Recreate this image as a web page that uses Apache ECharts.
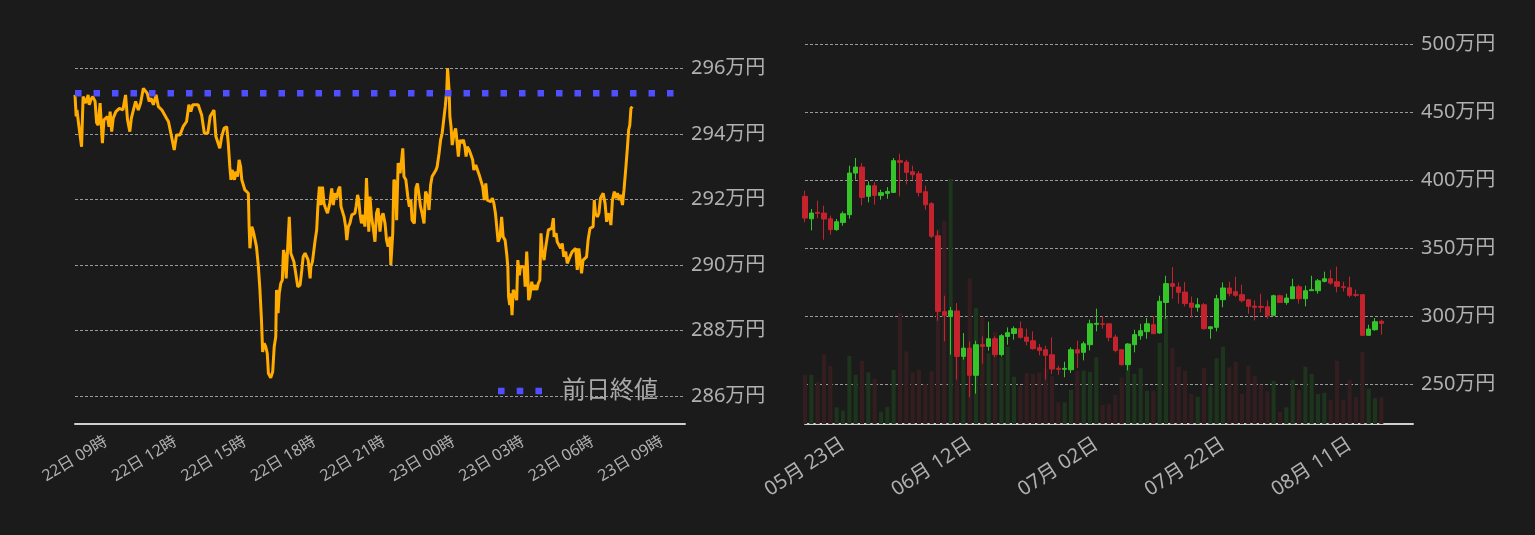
<!DOCTYPE html>
<html><head><meta charset="utf-8">
<script src="https://cdn.jsdelivr.net/npm/echarts@6/dist/echarts.min.js"></script>
<style>html,body{margin:0;padding:0;background:#1b1b1b;}#c{width:1535px;height:535px;}</style>
</head><body><div id="c"></div>
<script>
// ---- Left chart: intraday price (minutes since 22日 09:00, 万円) ----
const times = [0,3,5,9,17,21,28,34,37,41,46,52,56,60,65,67,71,75,80,84,88,91,95,99,106,115,124,131,136,142,146,151,157,164,170,177,181,187,192,197,203,210,216,225,237,242,250,257,263,272,280,289,295,300,305,319,328,335,344,350,354,360,365,375,380,386,393,397,401,404,407,413,417,421,425,429,432,436,440,445,449,451,453,458,462,466,470,475,479,483,486,490,494,498,501,507,512,516,520,522,526,529,533,537,540,544,547,551,555,559,563,567,571,577,583,587,591,596,600,604,609,611,615,619,622,626,629,633,637,641,645,649,654,660,665,669,673,678,682,686,689,692,697,701,704,708,712,717,721,725,728,732,735,738,742,747,751,755,758,761,764,768,772,777,781,785,790,794,798,803,807,811,816,818,823,826,831,833,837,842,846,849,852,857,862,866,870,873,879,883,887,892,895,899,904,908,913,917,921,925,930,935,938,943,947,951,956,959,963,965,969,971,974,977,982,986,989,993,997,1001,1006,1010,1013,1016,1021,1026,1030,1033,1038,1043,1047,1051,1056,1060,1064,1068,1072,1077,1081,1085,1089,1094,1096,1101,1105,1109,1114,1118,1121,1123,1126,1129,1132,1135,1139,1144,1147,1151,1154,1158,1163,1166,1170,1172,1175,1178,1183,1187,1191,1196,1200,1204,1207,1210,1215,1218,1222,1226,1230,1235,1239,1241,1246,1249,1254,1258,1262,1266,1271,1275,1279,1284,1288,1292,1297,1301,1305,1310,1312,1316,1321,1325,1329,1334,1338,1342,1345,1348,1353,1357,1361,1366,1368,1373,1377,1381,1385,1388,1392,1397,1401,1405,1410,1413,1418,1422,1427,1431,1434,1437,1440,1444];
const prices = [295.19,294.53,294.73,294.34,293.61,295.14,294.94,295.19,294.89,295.04,295.14,294.99,294.34,294.27,294.94,294.89,293.72,294.43,294.38,294.53,294.22,294.68,294.07,294.48,294.68,294.78,294.73,295.19,294.43,294.07,294.48,294.53,294.99,294.73,294.94,295.39,295.44,295.24,294.99,295.09,294.89,295.19,294.83,294.73,294.48,294.38,293.92,293.51,293.97,293.97,294.22,294.38,294.89,294.68,294.89,294.89,294.58,294.02,294.02,294.53,294.48,294.73,293.92,293.56,293.92,294.17,294.22,293.72,293.00,292.60,292.90,292.60,292.85,292.70,293.21,293.00,292.60,292.65,292.29,292.34,292.19,291.17,290.51,291.17,291.02,291.02,290.56,289.95,289.24,288.32,287.35,287.61,287.51,287.30,286.69,286.56,286.74,287.51,287.81,289.24,288.53,289.14,289.44,289.54,290.46,290.25,289.59,290.56,291.47,290.36,290.30,290.10,289.80,289.34,289.39,289.80,290.25,290.36,290.30,290.15,289.59,289.95,290.10,290.10,290.76,291.07,291.78,292.39,291.83,292.39,291.88,291.73,291.58,291.88,292.34,291.83,292.19,292.04,292.29,292.39,291.78,291.83,291.47,291.17,290.76,291.17,291.27,291.53,291.47,291.58,291.78,292.14,291.98,291.58,291.27,291.53,291.17,292.65,291.78,291.02,292.09,291.47,291.17,290.71,291.58,291.73,291.02,291.47,291.58,291.27,290.76,290.56,290.86,290.00,290.97,292.60,292.49,291.37,293.11,292.80,293.21,293.56,292.70,292.60,292.09,291.78,291.98,291.37,291.27,292.34,292.49,292.44,291.78,291.58,291.27,292.24,292.09,291.68,292.44,292.70,292.80,292.90,293.00,293.41,293.82,294.02,294.53,294.83,295.34,296.01,295.34,294.53,294.22,293.66,294.02,294.17,293.82,293.31,293.82,293.72,293.82,293.61,293.31,293.61,293.51,293.51,293.21,292.90,293.05,293.05,292.75,292.70,292.39,291.98,292.49,291.98,291.98,291.93,292.04,291.88,291.58,291.58,290.71,290.86,291.47,290.86,290.76,290.36,289.95,289.03,288.78,289.14,288.47,289.24,289.14,288.93,290.15,289.69,289.95,290.00,289.95,289.34,290.41,289.95,288.93,289.03,289.49,289.24,289.39,289.24,289.44,289.54,290.97,290.46,290.15,290.46,290.76,291.07,291.02,291.12,291.43,290.86,290.97,290.71,290.76,290.51,290.66,290.25,290.41,290.05,290.10,290.31,290.41,290.36,290.51,289.85,290.51,290.46,289.75,290.15,290.15,290.25,290.76,291.12,291.17,291.17,291.98,291.58,291.47,291.58,292.04,291.98,292.19,291.88,291.32,291.58,291.47,291.22,291.98,292.24,292.04,292.19,291.98,292.14,291.83,292.29,293.00,293.61,294.12,294.27,294.78,294.83];
const prevClose = 295.24;
const intradayStart = new Date(2022, 7, 22, 9, 0, 0);

// ---- Right chart: daily candles from 2022-05-23 ----
const dayStart = new Date(2022, 4, 23);
const dayCount = 97; // axis categories (candles for the first 92)
const opens  = [388.0,371.5,376.2,375.7,371.5,363.5,368.8,374.5,405.1,409.5,388.0,395.8,388.7,390.2,390.9,414.2,413.2,406.1,404.6,391.4,382.6,359.0,303.2,299.7,303.7,270.3,276.4,256.4,278.9,277.7,283.3,271.6,285.0,287.2,290.7,284.5,281.8,276.7,275.2,271.5,261.5,260.8,260.5,275.2,273.3,278.9,293.9,294.3,294.3,284.5,275.2,264.2,278.9,285.5,288.5,293.6,287.5,310.0,323.8,321.3,317.6,309.5,306.4,308.3,290.7,291.7,312.0,320.6,317.9,315.7,312.0,307.3,307.1,306.8,300.5,314.9,310.0,312.7,321.5,312.7,318.6,318.6,325.5,327.4,325.2,321.5,320.8,315.7,315.7,285.8,289.9,296.1];
const closes = [372.0,375.7,375.5,371.3,363.5,369.3,375.2,405.1,409.5,387.2,395.8,388.7,390.7,391.6,414.2,413.0,405.6,403.9,390.9,381.8,358.6,303.4,300.5,303.9,270.3,276.4,256.4,278.9,277.7,283.3,271.6,285.5,287.7,290.7,284.3,281.4,276.0,274.7,271.1,261.0,260.8,261.5,275.2,272.8,279.6,294.3,294.6,293.9,284.3,274.7,264.2,279.4,286.3,289.2,294.3,287.0,310.8,323.8,321.8,317.4,309.1,306.4,308.3,290.7,292.1,312.7,320.6,316.6,315.2,311.3,307.1,306.4,306.4,300.2,314.9,310.0,313.2,321.5,312.7,318.6,319.4,325.9,327.4,324.2,321.8,321.1,315.2,315.2,285.8,290.4,295.8,294.6];
const lows   = [368.9,363.0,372.0,356.1,359.8,362.7,366.4,371.5,400.2,381.4,383.6,381.8,385.5,386.2,390.4,388.0,396.8,400.2,388.0,378.2,357.3,296.5,281.4,271.5,253.2,267.9,240.2,242.9,264.9,274.5,269.8,270.3,278.9,282.6,283.3,278.4,275.2,271.1,253.2,257.3,256.8,254.9,258.1,261.7,267.4,274.7,288.7,290.7,281.4,273.3,263.5,260.0,273.3,282.6,283.3,287.0,287.0,298.0,312.7,309.1,307.1,299.0,303.2,289.9,283.3,288.7,306.4,314.4,314.0,310.0,301.7,296.8,302.7,298.0,300.2,309.5,308.3,312.7,309.1,307.1,318.6,316.4,324.7,323.0,317.4,318.1,313.7,314.0,285.8,285.8,289.2,286.3];
const highs  = [392.1,378.7,384.8,381.1,373.8,371.3,376.9,410.5,416.2,412.5,399.0,398.5,392.9,394.8,416.2,419.3,414.9,410.5,406.6,395.8,383.8,362.7,314.9,306.6,309.5,287.5,281.3,281.8,285.0,295.8,285.0,286.7,291.6,292.4,296.0,290.7,288.7,279.4,278.2,284.3,263.4,266.4,276.9,281.8,281.3,297.3,305.4,299.7,294.3,286.3,275.7,280.1,289.9,294.3,298.5,299.7,314.9,329.6,336.0,324.7,325.0,314.4,313.2,309.5,292.1,315.7,324.7,325.2,328.9,323.0,312.0,311.5,316.4,311.5,315.7,315.7,316.4,327.4,323.0,322.3,329.6,327.2,332.6,334.0,336.3,325.2,328.9,319.4,315.7,293.6,298.5,297.3];
const volumes = [493,493,423,693,583,167,133,683,493,633,517,453,123,173,543,1110,727,517,543,400,527,1950,2033,2450,767,667,1457,1163,1067,707,923,667,773,473,383,510,500,517,557,477,217,217,343,533,533,523,667,193,200,293,467,793,500,557,333,333,813,1067,757,573,533,300,273,560,377,657,773,567,623,300,583,483,393,327,433,123,167,443,340,573,500,300,313,243,633,243,443,267,723,353,257,267];

const FONT = '"Noto Sans", "Noto Sans CJK JP", sans-serif';
const UP = '#35c52b', DOWN = '#c4232e', UPV = '#1d351d', DOWNV = '#341d1f';
const BLUE = '#4f4fff';
const pad2 = n => String(n).padStart(2, '0');

const dayLabels = [];
for (let i = 0; i < dayCount; i++) {
  const d = new Date(dayStart.getFullYear(), dayStart.getMonth(), dayStart.getDate() + i);
  dayLabels.push(pad2(d.getMonth() + 1) + '月 ' + pad2(d.getDate()) + '日');
}
const linePts = times.map((t, i) => [t, prices[i]]);
const candleData = opens.map((o, i) => [o, closes[i], lows[i], highs[i]]);
const volData = volumes.map((v, i) => ({value: v, itemStyle: {color: closes[i] >= opens[i] ? UPV : DOWNV}}));

const chart = echarts.init(document.getElementById('c'), null, {renderer: 'canvas'});
const gridLine = {show: true, lineStyle: {color: '#9a9a9a', type: [3, 2], width: 1}, showMinLine: false, showMaxLine: false};
chart.setOption({
  backgroundColor: '#1b1b1b',
  animation: false,
  textStyle: {fontFamily: FONT},
  grid: [
    {left: 75, right: 850, top: 50, bottom: 111},
    {left: 805, right: 122, top: 30, bottom: 111}
  ],
  legend: {
    data: ['前日終値'], left: 493, top: 372, itemWidth: 44, itemHeight: 7,
    icon: 'path://M0,0h6.5v6.5h-6.5z M18.5,0h6.5v6.5h-6.5z M37,0h6.5v6.5h-6.5z',
    itemStyle: {color: BLUE},
    textStyle: {color: '#a8a8a8', fontSize: 24, lineHeight: 28, fontFamily: FONT, padding: [0, 0, 0, 15]}
  },
  xAxis: [
    {type: 'value', gridIndex: 0, min: 0, max: 1580, interval: 180,
     axisLine: {show: true, lineStyle: {color: '#cfcfcf', width: 2}},
     axisTick: {show: false}, splitLine: {show: false},
     axisLabel: {color: '#b0b0b0', fontSize: 16, fontFamily: FONT, rotate: 31, align: 'center', verticalAlign: 'middle', margin: 35,
       showMaxLabel: false,
       formatter: v => { const d = new Date(intradayStart.getTime() + v * 60000); return pad2(d.getDate()) + '日 ' + pad2(d.getHours()) + '時'; }}},
    {type: 'category', gridIndex: 1, data: dayLabels, boundaryGap: false,
     axisLine: {show: true, lineStyle: {color: '#cfcfcf', width: 2}},
     axisTick: {show: false}, splitLine: {show: false},
     axisLabel: {color: '#b0b0b0', fontSize: 20, fontFamily: FONT, rotate: 33, align: 'center', verticalAlign: 'middle', margin: 43, interval: 19}}
  ],
  yAxis: [
    {type: 'value', gridIndex: 0, position: 'right', min: 285.15, max: 296.56, splitNumber: 5,
     axisLine: {show: false}, axisTick: {show: false}, splitLine: gridLine,
     axisLabel: {color: '#b0b0b0', fontSize: 20, fontFamily: FONT, margin: 6, showMinLabel: false, showMaxLabel: false, formatter: v => v + '万円'}},
    {type: 'value', gridIndex: 1, position: 'right', min: 220.6, max: 510.3, splitNumber: 5,
     axisLine: {show: false}, axisTick: {show: false}, splitLine: gridLine,
     axisLabel: {color: '#b0b0b0', fontSize: 20, fontFamily: FONT, margin: 8, showMinLabel: false, showMaxLabel: false, formatter: v => v + '万円'}},
    {type: 'value', gridIndex: 1, show: false, min: 0, max: 3940}
  ],
  series: [
    {name: '価格', type: 'line', xAxisIndex: 0, yAxisIndex: 0, data: linePts, symbol: 'none',
     lineStyle: {color: '#ffab00', width: 3}, z: 2},
    {name: '前日終値', type: 'line', xAxisIndex: 0, yAxisIndex: 0, data: [[0, prevClose], [1580, prevClose]], symbol: 'none',
     lineStyle: {color: BLUE, width: 6.5, type: [6.5, 12], cap: 'butt'}, itemStyle: {color: BLUE}, z: 3},
    {name: '出来高', type: 'bar', xAxisIndex: 1, yAxisIndex: 2, data: volData, barWidth: 4, z: 1},
    {name: '日足', type: 'candlestick', xAxisIndex: 1, yAxisIndex: 1, data: candleData, barWidth: 5, z: 2,
     itemStyle: {color: UP, color0: DOWN, borderColor: UP, borderColor0: DOWN, borderWidth: 1}}
  ]
});
</script></body></html>
